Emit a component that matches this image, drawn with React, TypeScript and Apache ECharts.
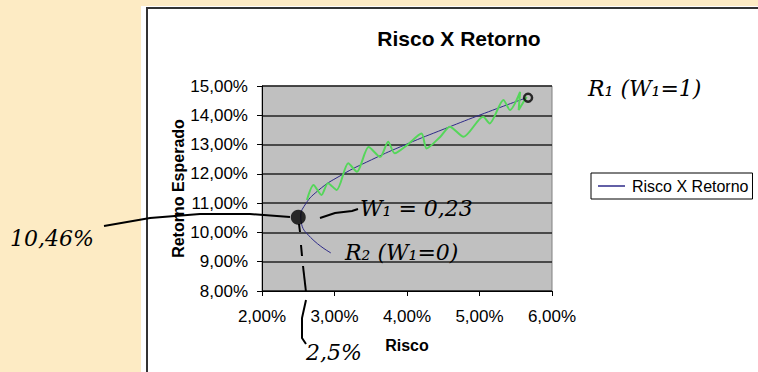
import React, { useEffect, useRef } from "react";
import * as echarts from "echarts";

const chartTitle = "Risco X Retorno";
const seriesName = "Risco X Retorno";
const xAxisName = "Risco";
const yAxisName = "Retorno Esperado";

// Frontier (risk %, expected return %)
const riscoValues = [2.95, 2.67, 2.54, 2.535, 2.58, 2.77, 3.09, 3.51, 3.99, 4.52, 5.07, 5.65];
const retornoValues = [9.3, 9.83, 10.36, 10.52, 10.89, 11.42, 11.95, 12.48, 13.01, 13.54, 14.07, 14.6];

// Hand-drawn green highlight over the efficient part
const greenRisco = [2.62, 2.71, 2.82, 2.91, 3.03, 3.19, 3.31, 3.47, 3.63, 3.74, 3.83, 4.0, 4.2, 4.27, 4.46, 4.59, 4.78, 5.05, 5.14, 5.33, 5.42, 5.56, 5.54, 5.65];
const greenRetorno = [11.11, 11.62, 11.28, 11.68, 11.45, 12.36, 12.07, 12.92, 12.58, 13.1, 12.7, 12.98, 13.38, 12.87, 13.27, 13.61, 13.27, 13.95, 13.72, 14.52, 14.18, 14.8, 14.18, 14.63];

// Marked points
const minVarPoint = [2.5, 10.52];
const endPoint = [5.67, 14.6];

const xMin = 2, xMax = 6, xStep = 1;
const yMin = 8, yMax = 15, yStep = 1;

const pct = (v: number) => v.toFixed(2).replace(".", ",") + "%";

const hand = 'italic 22px "DejaVu Serif"';

export default function App() {
  const ref = useRef<HTMLDivElement>(null);
  useEffect(() => {
    if (!ref.current) return;
    const chart = echarts.init(ref.current, undefined, { renderer: "svg" });
    const font = "Liberation Sans";
    chart.setOption({
      animation: false,
      backgroundColor: "#ffffff",
      textStyle: { fontFamily: font },
      title: {
        text: chartTitle,
        left: 454,
        top: 23,
        textAlign: "center",
        textStyle: { fontSize: 21, fontWeight: "bold", color: "#000", fontFamily: font },
      },
      legend: {
        data: [seriesName],
        left: 591,
        top: 173,
        width: 163,
        orient: "vertical",
        icon: "rect",
        backgroundColor: "#fff",
        borderColor: "#000",
        borderWidth: 1,
        borderRadius: 0,
        padding: [5, 4, 5, 7],
        itemWidth: 27,
        itemHeight: 1.5,
        itemGap: 4,
        textStyle: { fontSize: 16, color: "#000", fontFamily: font, padding: [0, 0, 0, 2] },
      },
      grid: {
        left: 262,
        right: 206,
        top: 86,
        bottom: 81,
        show: true,
        backgroundColor: "#C0C0C0",
        borderColor: "#808080",
        borderWidth: 1,
      },
      xAxis: {
        type: "value",
        min: xMin,
        max: xMax,
        interval: xStep,
        name: xAxisName,
        nameLocation: "middle",
        nameGap: 46,
        nameTextStyle: { fontSize: 16, fontWeight: "bold", color: "#000", fontFamily: font },
        axisLine: { show: true, onZero: false, lineStyle: { color: "#000", width: 1 } },
        axisTick: { show: true, inside: false, length: 5, lineStyle: { color: "#000" } },
        axisLabel: { formatter: pct, fontSize: 17, color: "#000", margin: 17, fontFamily: font },
        splitLine: { show: false },
      },
      yAxis: {
        type: "value",
        min: yMin,
        max: yMax,
        interval: yStep,
        name: yAxisName,
        nameLocation: "middle",
        nameGap: 73,
        nameRotate: 90,
        nameTextStyle: { fontSize: 16, fontWeight: "bold", color: "#000", fontFamily: font },
        axisLine: { show: true, onZero: false, lineStyle: { color: "#000", width: 1 } },
        axisTick: { show: true, inside: false, length: 5, lineStyle: { color: "#000" } },
        axisLabel: { formatter: pct, fontSize: 17, color: "#000", margin: 14, fontFamily: font },
        splitLine: { show: true, lineStyle: { color: "#222", width: 1.5 } },
      },
      series: [
        {
          name: seriesName,
          type: "line",
          smooth: true,
          symbol: "none",
          lineStyle: { color: "#2E2A88", width: 1 },
          itemStyle: { color: "#2E2A88" },
          data: riscoValues.map((x, i) => [x, retornoValues[i]]),
          z: 3,
        },
        {
          name: "highlight",
          type: "line",
          smooth: 0.25,
          symbol: "none",
          lineStyle: { color: "#55D65A", width: 2 },
          data: greenRisco.map((x, i) => [x, greenRetorno[i]]),
          z: 4,
        },
        {
          name: "mvp",
          type: "scatter",
          symbol: "circle",
          symbolSize: 15,
          itemStyle: { color: "#000" },
          data: [minVarPoint],
          z: 5,
        },
        {
          name: "end",
          type: "scatter",
          symbol: "circle",
          symbolSize: 8,
          itemStyle: { color: "transparent", borderColor: "#000", borderWidth: 2.5 },
          data: [endPoint],
          z: 5,
        },
      ],
      graphic: [
        { type: "rect", z: -10, shape: { x: 0, y: 0, width: 141, height: 372 }, style: { fill: "#FDEBC4" } },
        { type: "rect", z: -10, shape: { x: 0, y: 0, width: 758, height: 6 }, style: { fill: "#FDEBC4" } },
        { type: "rect", z: -9, shape: { x: 147, y: 8, width: 700, height: 500 }, style: { fill: "none", stroke: "#333", lineWidth: 2 } },
        // handwritten annotations
        { type: "text", z: 20, x: 588, y: 88, style: { text: "R₁ (W₁=1)", font: hand, fill: "#000", textVerticalAlign: "middle" } },
        { type: "text", z: 20, x: 360, y: 208, style: { text: "W₁ = 0,23", font: hand, fill: "#000", textVerticalAlign: "middle" } },
        { type: "text", z: 20, x: 345, y: 252, style: { text: "R₂ (W₁=0)", font: hand, fill: "#000", textVerticalAlign: "middle" } },
        { type: "text", z: 20, x: 10, y: 238, style: { text: "10,46%", font: hand, fill: "#000", textVerticalAlign: "middle" } },
        { type: "text", z: 20, x: 306, y: 352, style: { text: "2,5%", font: hand, fill: "#000", textVerticalAlign: "middle" } },
        { type: "polyline", z: 20, shape: { points: [[320, 218], [335, 213], [352, 211], [358, 209]] }, style: { stroke: "#000", lineWidth: 2, fill: "none" } },
        { type: "polyline", z: 20, shape: { points: [[104, 226], [150, 218], [200, 214], [250, 214], [290, 217]] }, style: { stroke: "#000", lineWidth: 2, fill: "none" } },
        { type: "polyline", z: 20, shape: { points: [[299, 224], [300, 232]] }, style: { stroke: "#000", lineWidth: 2, fill: "none" } },
        { type: "polyline", z: 20, shape: { points: [[301, 245], [302, 256]] }, style: { stroke: "#000", lineWidth: 2, fill: "none" } },
        { type: "polyline", z: 20, shape: { points: [[303, 266], [306, 292]] }, style: { stroke: "#000", lineWidth: 2, fill: "none" } },
        { type: "polyline", z: 20, shape: { points: [[306, 300], [302, 318], [302, 338], [306, 344]] }, style: { stroke: "#000", lineWidth: 2, fill: "none" } },
      ],
    });
    return () => chart.dispose();
  }, []);
  return (
    <div
      ref={ref}
      style={{ position: "fixed", left: 0, top: 0, width: 758, height: 372 }}
    />
  );
}
